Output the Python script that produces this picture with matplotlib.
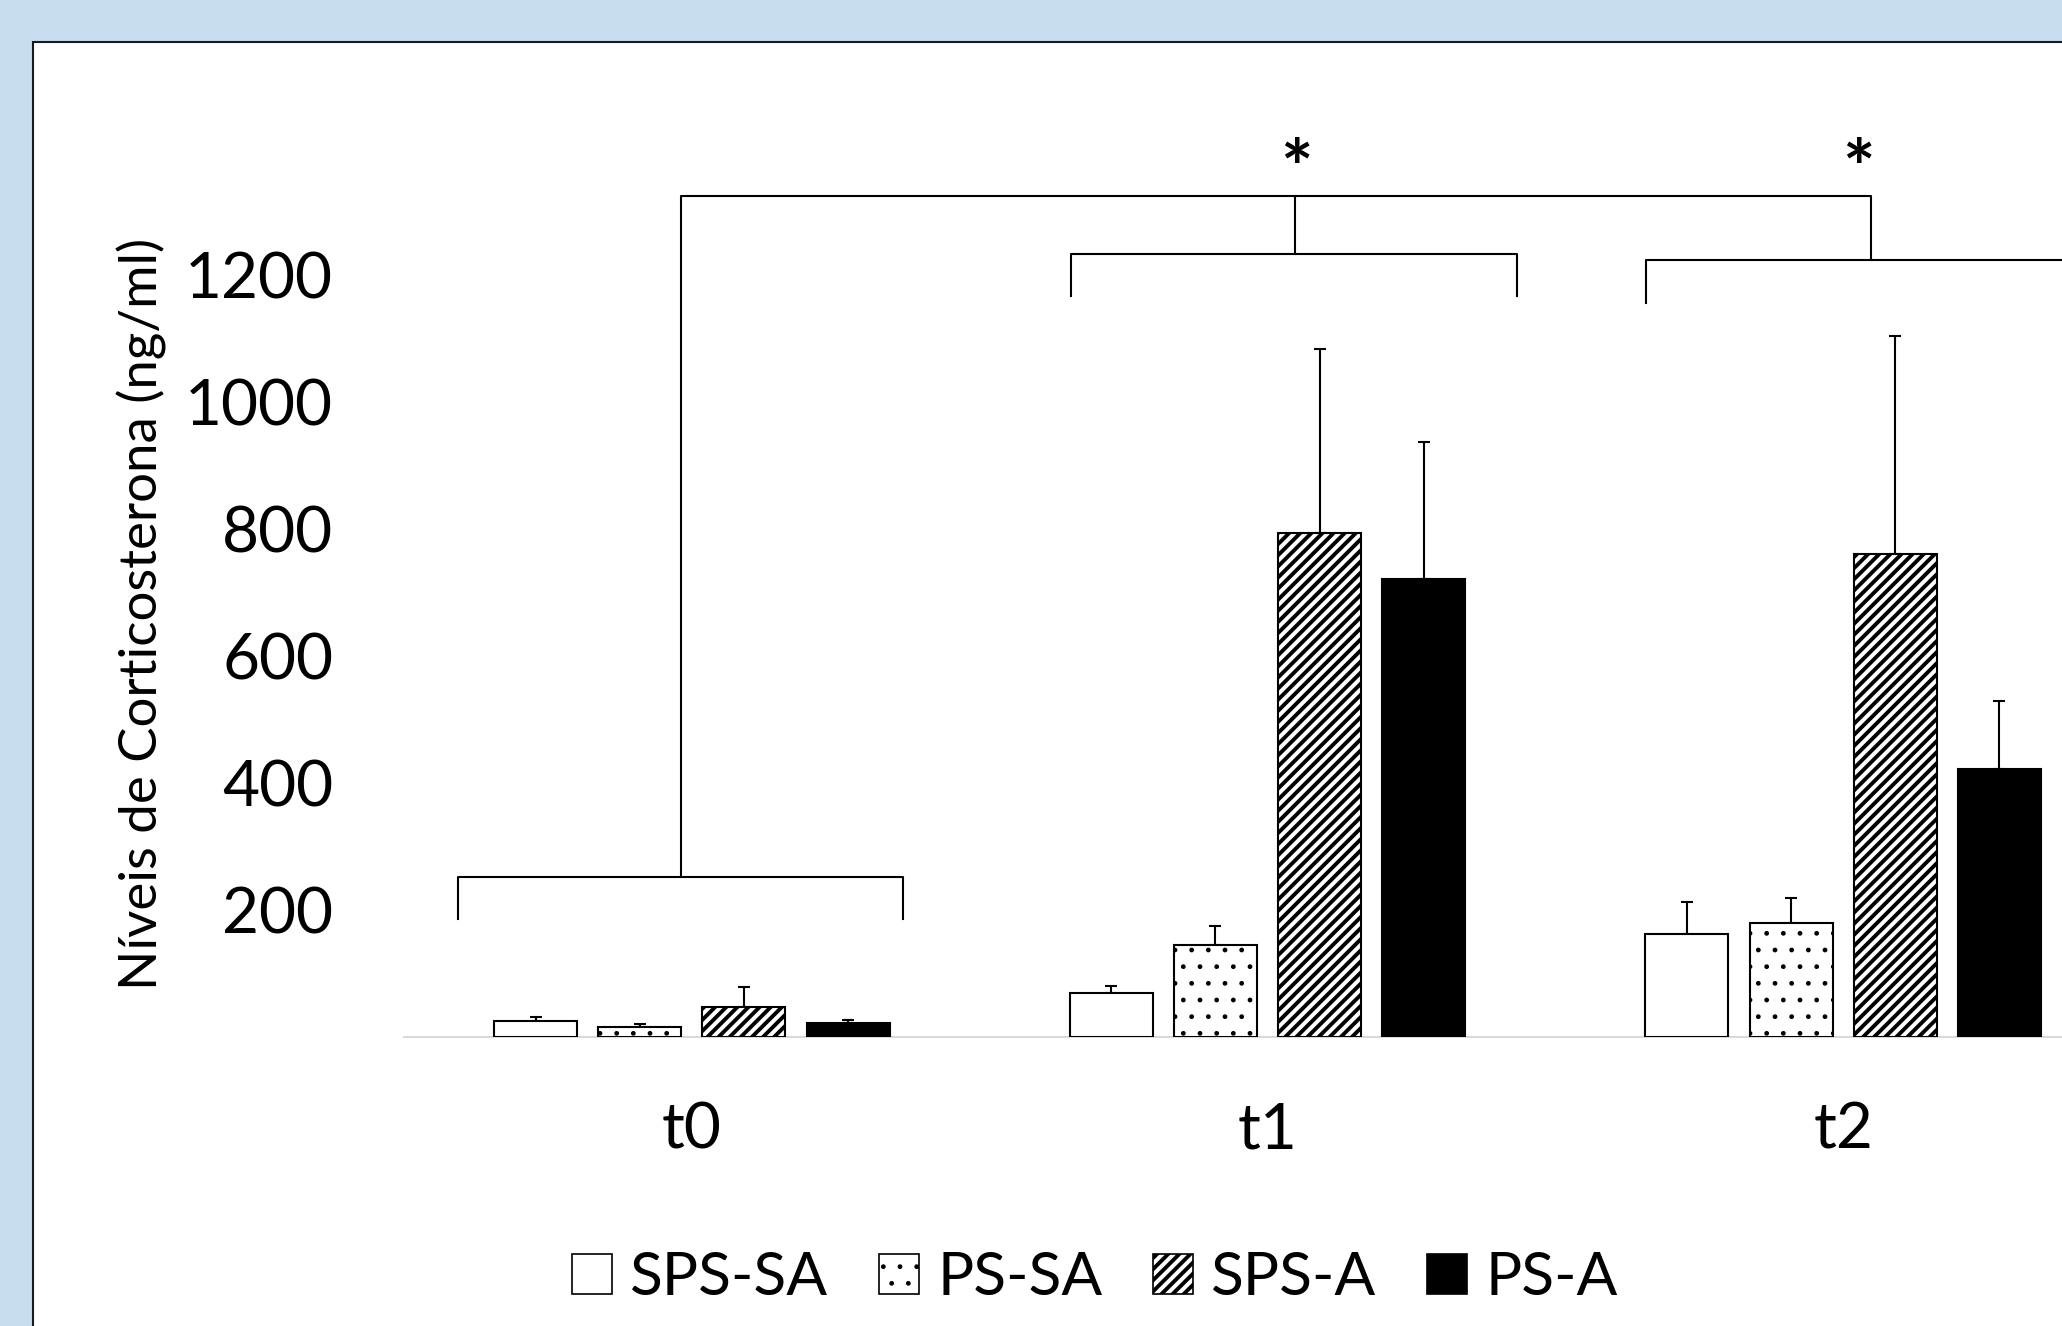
import numpy as np
import matplotlib.pyplot as plt
import matplotlib.patches as mpatches

groups = ['t0', 't1', 't2']
series = ['SPS-SA', 'PS-SA', 'SPS-A', 'PS-A']

# mean corticosterone (ng/ml) per group
sps_sa = [25, 68, 162]
ps_sa = [15, 144, 179]
sps_a = [47, 794, 761]
ps_a = [21, 722, 422]

# upper error bars
sps_sa_err = [6, 12, 50]
ps_sa_err = [5, 30, 39]
sps_a_err = [31, 290, 344]
ps_a_err = [5, 215, 107]

yticks = [200, 400, 600, 800, 1000, 1200]

plt.rcParams['font.family'] = ['Lato', 'DejaVu Sans']
plt.rcParams['hatch.linewidth'] = 2.8


def with_hatch_lw(artist, lw):
    # hatch linewidth is a global rc setting, so set it only while this artist draws
    if hasattr(artist, 'set_hatch_linewidth'):
        artist.set_hatch_linewidth(lw)
    orig = artist.draw

    def draw(renderer, *args, **kwargs):
        with plt.rc_context({'hatch.linewidth': lw}):
            return orig(renderer, *args, **kwargs)
    artist.draw = draw


W, H = 2062, 1326
fig = plt.figure(figsize=(W / 100, H / 100), dpi=100, facecolor='#C9DDF1')

# white panel with black border (cropped on the right and bottom)
panel = mpatches.Rectangle((33 / W, -0.1), 1.2, 1.1 - 42 / H, transform=fig.transFigure,
                           facecolor='white', edgecolor='#1a1a1a', lw=1.5, zorder=0)
fig.add_artist(panel)

ax = fig.add_axes([404 / W, 1 - 1036.5 / H, 1727 / W, 888 / H])
ax.patch.set_alpha(0)
ax.set_xlim(-0.5, 2.5)
ax.set_ylim(0, 1400)

x = np.arange(len(groups))
step = 0.181
w = 0.144

values = [sps_sa, ps_sa, sps_a, ps_a]
errors = [sps_sa_err, ps_sa_err, sps_a_err, ps_a_err]
faces = ['white', 'white', 'white', 'black']
hatches = [None, '.', '///', None]
hatch_lws = [1.0, 1.0, 2.8, 1.0]

handles = []
for j in range(4):
    xs = x + (j - 1.5) * step
    bars = ax.bar(xs, values[j], w, facecolor=faces[j], edgecolor='black', lw=1.5,
                  hatch=hatches[j], zorder=3)
    for b in bars:
        with_hatch_lw(b, hatch_lws[j])
    ax.errorbar(xs, values[j], yerr=[np.zeros(len(groups)), errors[j]], fmt='none',
                ecolor='black', elinewidth=1.5, capsize=4.3, capthick=1.5, zorder=2)
    handles.append(mpatches.Patch(facecolor=faces[j], edgecolor='black', lw=1.2,
                                  hatch=hatches[j]))

for s in ['left', 'right', 'top']:
    ax.spines[s].set_visible(False)
ax.spines['bottom'].set_color('#D9D9D9')
ax.spines['bottom'].set_linewidth(1.5)

ax.set_yticks(yticks)
ax.set_xticks(x, groups)
ax.tick_params(axis='y', length=0, pad=51, labelsize=46)
ax.tick_params(axis='x', length=0, pad=47, labelsize=46)

fig.text(142 / W, 1 - 614 / H, 'Níveis de Corticosterona (ng/ml)', rotation=90,
         ha='center', va='center', fontsize=38)


# significance brackets
def bracket(x0, x1, y, leg):
    ax.plot([x0, x0, x1, x1], [y - leg, y, y, y - leg], color='black', lw=1.5,
            clip_on=False, zorder=4)


bracket(-0.407, 0.366, 251, 66)
bracket(0.659, 1.434, 1233, 66)
bracket(1.657, 2.44, 1224, 68)
ax.plot([-0.018, -0.018, 2.049, 2.049], [251, 1325, 1325, 1224], color='black', lw=1.5,
        clip_on=False, zorder=4)
ax.plot([1.048, 1.048], [1233, 1325], color='black', lw=1.5, clip_on=False, zorder=4)
ax.text(1.050, 1326, '*', ha='center', va='baseline', fontsize=55, fontweight='bold')
ax.text(2.027, 1326, '*', ha='center', va='baseline', fontsize=55, fontweight='bold')

leg = fig.legend(handles, series, loc='center', bbox_to_anchor=(1095 / W, 1 - 1278 / H),
                 ncol=4, frameon=False, fontsize=43.5, handlelength=0.65, handleheight=0.65,
                 handletextpad=0.31, columnspacing=0.84)
for p, lw in zip(leg.get_patches(), hatch_lws):
    with_hatch_lw(p, lw)

fig.savefig('out.png', dpi=100, facecolor=fig.get_facecolor())
